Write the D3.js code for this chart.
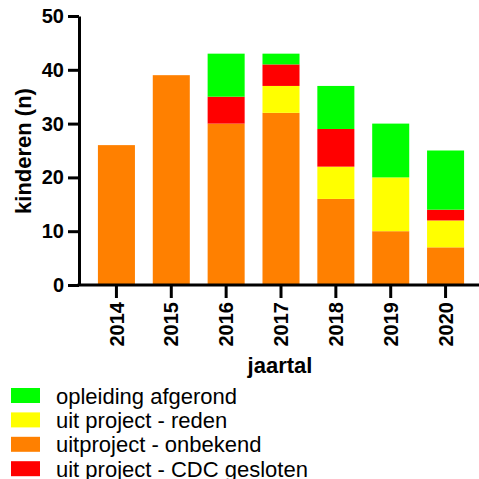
<!DOCTYPE html>
<html>
<head>
<meta charset="utf-8">
<script src="https://d3js.org/d3.v7.min.js"></script>
<style>
  body { margin: 0; background: #fff; }
  svg { display: block; font-family: Arial, "Liberation Sans", sans-serif; }
</style>
</head>
<body>
<div id="chart"></div>
<script>
// categories and stacked series (bottom to top)
var years = ['2014', '2015', '2016', '2017', '2018', '2019', '2020'];
var onbekend = [26, 39, 30, 32, 16, 10, 7];
var reden = [0, 0, 0, 5, 6, 10, 5];
var gesloten = [0, 0, 5, 4, 7, 0, 2];
var afgerond = [0, 0, 8, 2, 8, 10, 11];
var yTicks = [0, 10, 20, 30, 40, 50];

var seriesKeys = ['onbekend', 'reden', 'gesloten', 'afgerond'];
var seriesColor = {
    onbekend: '#ff8000',
    reden: '#ffff00',
    gesloten: '#ff0000',
    afgerond: '#00ff00'
};
// legend order as in the picture
var legendKeys = ['afgerond', 'reden', 'onbekend', 'gesloten'];
var legendLabels = {
    afgerond: 'opleiding afgerond',
    reden: 'uit project - reden',
    onbekend: 'uitproject - onbekend',
    gesloten: 'uit project - CDC gesloten'
};

var width = 479, height = 479;

var rows = years.map(function (y, i) {
    return { year: y, onbekend: onbekend[i], reden: reden[i], gesloten: gesloten[i], afgerond: afgerond[i] };
});

var stack = d3.stack().keys(seriesKeys);
var layers = stack(rows);

var x = d3.scaleBand()
    .domain(years)
    .range([89, 473])
    .paddingInner(0.325)
    .paddingOuter(0.1625);

var y = d3.scaleLinear()
    .domain([0, 50])
    .range([285, 16]);

var svg = d3.select('#chart')
    .append('svg')
    .attr('width', width)
    .attr('height', height);

// bars
svg.append('g')
    .selectAll('g')
    .data(layers)
    .join('g')
    .attr('fill', function (d) { return seriesColor[d.key]; })
    .selectAll('rect')
    .data(function (d) { return d; })
    .join('rect')
    .attr('x', function (d) { return x(d.data.year); })
    .attr('width', x.bandwidth())
    .attr('y', function (d) { return y(d[1]); })
    .attr('height', function (d) { return y(d[0]) - y(d[1]); });

// y axis
var yAxis = svg.append('g')
    .attr('transform', 'translate(79,0)')
    .call(d3.axisLeft(y).tickValues(yTicks).tickSize(11).tickPadding(4).tickSizeOuter(0));
yAxis.select('.domain').attr('stroke-width', 3).attr('stroke', '#000');
yAxis.selectAll('.tick line').attr('stroke-width', 3);
yAxis.selectAll('.tick text')
    .style('font-size', '20px')
    .style('font-weight', 'bold')
    .attr('fill', '#000');

// x axis
var xAxis = svg.append('g')
    .attr('transform', 'translate(0,285)')
    .call(d3.axisBottom(x).tickSize(13).tickSizeOuter(0));
xAxis.select('.domain').attr('d', 'M77.5,0H479').attr('stroke-width', 3).attr('stroke', '#000');
xAxis.selectAll('.tick line').attr('stroke-width', 3);
xAxis.selectAll('.tick text')
    .style('font-size', '20px')
    .style('font-weight', 'bold')
    .attr('fill', '#000')
    .attr('text-anchor', 'end')
    .attr('transform', 'rotate(-90)')
    .attr('x', -17)
    .attr('y', 0)
    .attr('dy', '0.36em');

// axis titles
svg.append('text')
    .attr('transform', 'translate(31,151) rotate(-90)')
    .attr('text-anchor', 'middle')
    .style('font-size', '22px')
    .style('font-weight', 'bold')
    .text('kinderen (n)');

svg.append('text')
    .attr('x', 280)
    .attr('y', 373)
    .attr('text-anchor', 'middle')
    .style('font-size', '22px')
    .style('font-weight', 'bold')
    .text('jaartal');

// legend
var legend = svg.append('g')
    .selectAll('g')
    .data(legendKeys)
    .join('g')
    .attr('transform', function (d, i) { return 'translate(11,' + (388 + i * 24.4) + ')'; });

legend.append('rect')
    .attr('width', 29)
    .attr('height', 15)
    .attr('fill', function (d) { return seriesColor[d]; });

legend.append('text')
    .attr('x', 45)
    .attr('y', 15.5)
    .style('font-size', '22px')
    .text(function (d) { return legendLabels[d]; });
</script>
</body>
</html>
